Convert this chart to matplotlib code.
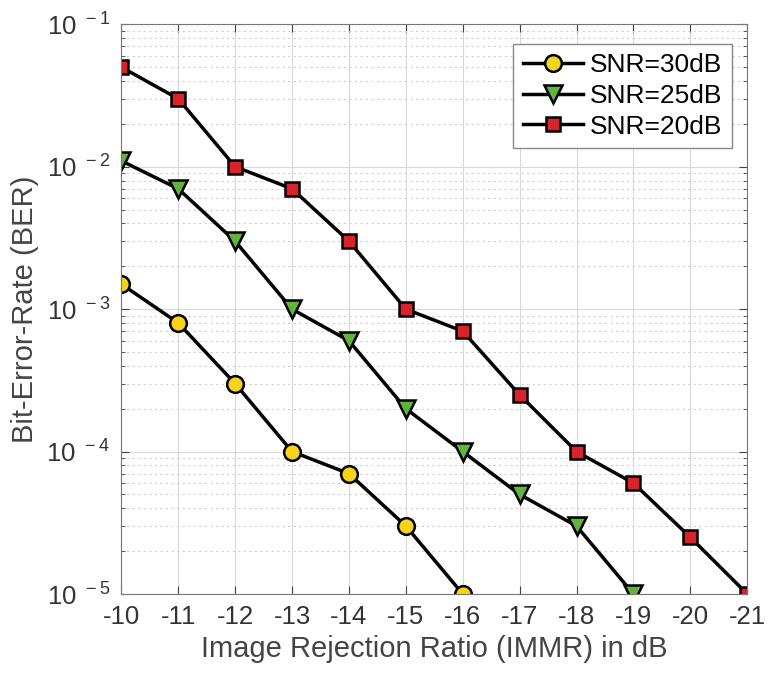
import matplotlib
matplotlib.use('Agg')
import matplotlib.pyplot as plt
from matplotlib import rc

rc('mathtext', default='regular')
plt.rcParams['font.family'] = ['Liberation Sans', 'DejaVu Sans']

immr = [-10, -11, -12, -13, -14, -15, -16, -17, -18, -19, -20, -21]
ber_30 = [1.5e-3, 8e-4, 3e-4, 1e-4, 7e-5, 3e-5, 1e-5]
ber_25 = [1.1e-2, 7e-3, 3e-3, 1e-3, 6e-4, 2e-4, 1e-4, 5e-5, 3e-5, 1e-5]
ber_20 = [5e-2, 3e-2, 1e-2, 7e-3, 3e-3, 1e-3, 7e-4, 2.5e-4, 1e-4, 6e-5, 2.5e-5, 1e-5]

fig = plt.figure(figsize=(7.68, 6.75), dpi=100)
ax = fig.add_axes([0.158, 0.12, 0.815, 0.844])

ax.semilogy(immr[:len(ber_30)], ber_30, '-o', color='black', lw=2.5,
            ms=12, mfc='#f7d31a', mec='black', mew=1.8, label='SNR=30dB')
ax.semilogy(immr[:len(ber_25)], ber_25, '-v', color='black', lw=2.5,
            ms=13, mfc='#62b33e', mec='black', mew=1.8, label='SNR=25dB')
ax.semilogy(immr, ber_20, '-s', color='black', lw=2.5,
            ms=10, mfc='#d8232a', mec='black', mew=1.8, label='SNR=20dB')

ax.set_xlim(-10, -21)
ax.set_ylim(1e-5, 1e-1)
ax.set_xticks(immr)
ax.set_xticklabels([str(v) for v in immr])
ax.set_yticks([1e-5, 1e-4, 1e-3, 1e-2, 1e-1])
ax.set_yticklabels(['$10^{\\ -5}$', '$10^{\\ -4}$', '$10^{\\ -3}$',
                    '$10^{\\ -2}$', '$10^{\\ -1}$'])

ax.grid(True, which='major', color='#d9d9d9', lw=0.8)
ax.grid(True, which='minor', color='#d0d0d0', lw=0.8, ls=(0, (2, 3)))
ax.tick_params(which='both', direction='in', top=True, right=True,
               labelsize=18.5, colors='#444444', labelcolor='#333333')
ax.tick_params(which='major', length=6, pad=8)
ax.tick_params(which='minor', length=3)
for s in ax.spines.values():
    s.set_color('#777777')

ax.set_xlabel('Image Rejection Ratio (IMMR) in dB', fontsize=21, color='#444444')
ax.set_ylabel('Bit-Error-Rate (BER)', fontsize=21, color='#444444', labelpad=5)

leg = ax.legend(loc='upper right', bbox_to_anchor=(0.975, 0.965), fontsize=19,
                fancybox=False, edgecolor='#888888', framealpha=1,
                handlelength=2.3, handletextpad=0.25, borderpad=0.35,
                labelspacing=0.25, borderaxespad=0)
leg.get_frame().set_linewidth(1.0)

fig.savefig('out.png', dpi=100)
